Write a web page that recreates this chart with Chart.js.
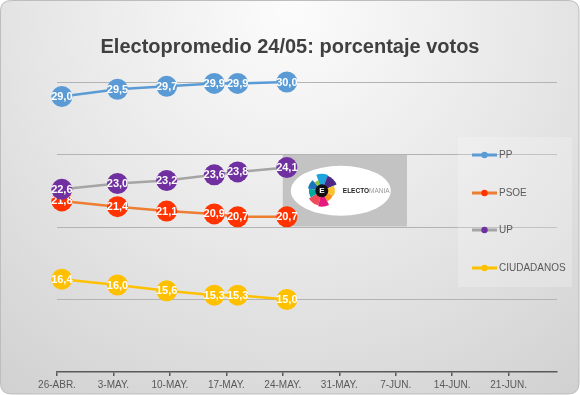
<!DOCTYPE html>
<html>
<head>
<meta charset="utf-8">
<script src="https://cdn.jsdelivr.net/npm/chart.js@4.4.1/dist/chart.umd.min.js"></script>
<style>
html,body{margin:0;padding:0;background:#fff;}
#wrap{width:580px;height:395px;}
</style>
</head>
<body>
<div id="wrap"><canvas id="c" width="580" height="395"></canvas></div>
<script>
// ---- data ----
const chartTitle = 'Electopromedio 24/05: porcentaje votos';
const tickLabels = ['26-ABR.', '3-MAY.', '10-MAY.', '17-MAY.', '24-MAY.', '31-MAY.', '7-JUN.', '14-JUN.', '21-JUN.'];
// day offsets from 26-ABR as placed on the date axis
const dayOffsets = [0.6, 7.5, 13.6, 19.5, 22.4, 28.5];
const seriesNames = ['PP', 'PSOE', 'UP', 'CIUDADANOS'];
const ppValues = [29.0, 29.5, 29.7, 29.9, 29.9, 30.0];
const psoeValues = [21.8, 21.4, 21.1, 20.9, 20.7, 20.7];
const upValues = [22.6, 23.0, 23.2, 23.6, 23.8, 24.1];
const csValues = [16.4, 16.0, 15.6, 15.3, 15.3, 15.0];

const lineColors = ['#5b9bd5', '#ed7d31', '#a5a5a5', '#ffc000'];
const markerColors = ['#5b9bd5', '#ff3300', '#7030a0', '#ffc000'];
const allValues = [ppValues, psoeValues, upValues, csValues];

function pts(vals) { return vals.map((v, i) => ({ x: dayOffsets[i], y: v })); }

const datasets = allValues.map((vals, i) => ({
  label: seriesNames[i],
  data: pts(vals),
  borderColor: lineColors[i],
  backgroundColor: markerColors[i],
  pointBackgroundColor: markerColors[i],
  pointBorderColor: markerColors[i],
  pointBorderWidth: 0,
  pointRadius: 10.5,
  pointHoverRadius: 10.5,
  borderWidth: 2.5,
  tension: 0,
  clip: false,
  order: 10 - i
}));

const bgPlugin = {
  id: 'bg',
  beforeDraw(chart) {
    const ctx = chart.ctx, W = chart.width, H = chart.height;
    ctx.save();
    ctx.fillStyle = '#ffffff';
    ctx.fillRect(0, 0, W, H);
    const r = 11;
    ctx.beginPath();
    ctx.moveTo(r + 0.5, 0.5);
    ctx.lineTo(W - r - 1, 0.5);
    ctx.quadraticCurveTo(W - 1, 0.5, W - 1, r);
    ctx.lineTo(W - 1, H - r - 1);
    ctx.quadraticCurveTo(W - 1, H - 1, W - r - 1, H - 1);
    ctx.lineTo(r + 0.5, H - 1);
    ctx.quadraticCurveTo(0.5, H - 1, 0.5, H - r - 1);
    ctx.lineTo(0.5, r);
    ctx.quadraticCurveTo(0.5, 0.5, r + 0.5, 0.5);
    ctx.closePath();
    const g = ctx.createRadialGradient(W / 2, 10, 10, W / 2, 10, 560);
    g.addColorStop(0, '#fbfbfb');
    g.addColorStop(0.45, '#e6e6e6');
    g.addColorStop(1, '#c9c9c9');
    ctx.fillStyle = g;
    ctx.fill();
    ctx.strokeStyle = '#bdbdbd';
    ctx.lineWidth = 1;
    ctx.stroke();
    ctx.restore();
  }
};

const logoPlugin = {
  id: 'logo',
  beforeDatasetsDraw(chart) {
    const ctx = chart.ctx;
    const xs = chart.scales.x, ys = chart.scales.y;
    const x0 = xs.getPixelForValue(28), x1 = xs.getPixelForValue(43.4);
    const y0 = ys.getPixelForValue(25), y1 = ys.getPixelForValue(20);
    ctx.save();
    ctx.fillStyle = '#c3c3c3';
    ctx.fillRect(x0, y0 + 0.5, x1 - x0, y1 - y0 - 1);
    const cx = x0 + 58, cy = (y0 + y1) / 2;
    ctx.fillStyle = '#ffffff';
    ctx.beginPath();
    ctx.ellipse(cx, cy, 50, 25, 0, 0, Math.PI * 2);
    ctx.fill();
    // petals
    const ix = cx - 19, iy = cy;
    const petals = [
      ['#1fa3dc', -1.9, -1.2, 17], ['#4a2a86', -1.2, -0.4, 16], ['#fcc22d', -0.4, 0.4, 13],
      ['#f7941d', 0.4, 1.1, 12], ['#e6197e', 1.1, 1.8, 16], ['#ef4b5a', 1.8, 2.6, 15],
      ['#00a99d', 2.6, 3.3, 13], ['#1b75bb', 3.3, 4.0, 14], ['#8dc63f', 4.0, 4.4, 11]
    ];
    petals.forEach(p => {
      ctx.fillStyle = p[0];
      ctx.beginPath();
      ctx.moveTo(ix, iy);
      ctx.arc(ix, iy, p[3], p[1], p[2]);
      ctx.closePath();
      ctx.fill();
    });
    ctx.fillStyle = '#111';
    ctx.beginPath();
    ctx.arc(ix, iy, 6.5, 0, Math.PI * 2);
    ctx.fill();
    ctx.fillStyle = '#fff';
    ctx.font = 'bold 8px "Liberation Sans"';
    ctx.textAlign = 'center';
    ctx.textBaseline = 'middle';
    ctx.fillText('E', ix, iy + 0.5);
    ctx.textAlign = 'left';
    ctx.font = 'bold 6.5px "Liberation Sans"';
    ctx.fillStyle = '#222';
    ctx.fillText('ELECTO', ix + 21, iy + 0.5);
    const w = ctx.measureText('ELECTO').width;
    ctx.font = '6.5px "Liberation Sans"';
    ctx.fillStyle = '#9a9a9a';
    ctx.fillText('MANIA', ix + 21 + w, iy + 0.5);
    ctx.restore();
  }
};

const labelPlugin = {
  id: 'vlabels',
  afterDatasetDraw(chart, args) {
    const ctx = chart.ctx;
    const meta = args.meta;
    const ds = chart.data.datasets[args.index];
    ctx.save();
    ctx.font = 'bold 11px "Liberation Sans"';
    ctx.fillStyle = '#ffffff';
    ctx.textAlign = 'center';
    ctx.textBaseline = 'middle';
    meta.data.forEach((el, i) => {
      const v = ds.data[i].y;
      ctx.fillText(v.toFixed(1).replace('.', ','), el.x, el.y + 0.5);
    });
    ctx.restore();
  }
};

const legendPlugin = {
  id: 'customLegend',
  afterDraw(chart) {
    const ctx = chart.ctx;
    ctx.save();
    ctx.fillStyle = 'rgba(255,255,255,0.22)';
    ctx.fillRect(458, 137, 114, 150);
    const ys = [155, 193, 230, 268];
    ctx.font = '10px "Liberation Sans"';
    ctx.textBaseline = 'middle';
    ctx.textAlign = 'left';
    seriesNames.forEach((n, i) => {
      ctx.strokeStyle = lineColors[i];
      ctx.lineWidth = 3;
      ctx.beginPath();
      ctx.moveTo(472, ys[i]);
      ctx.lineTo(497, ys[i]);
      ctx.stroke();
      ctx.fillStyle = markerColors[i];
      ctx.beginPath();
      ctx.arc(484.5, ys[i], 3.2, 0, Math.PI * 2);
      ctx.fill();
      ctx.fillStyle = '#595959';
      ctx.fillText(n, 499, ys[i] + 0.5);
    });
    ctx.restore();
  }
};

new Chart(document.getElementById('c'), {
  type: 'line',
  data: { datasets },
  plugins: [bgPlugin, logoPlugin, labelPlugin, legendPlugin],
  options: {
    responsive: false,
    animation: false,
    events: [],
    layout: { padding: { left: 23, right: 23, top: 0, bottom: 0 } },
    plugins: {
      legend: { display: false },
      tooltip: { enabled: false },
      title: {
        display: true,
        text: chartTitle,
        color: '#404040',
        font: { family: '"Liberation Sans"', size: 20, weight: 'bold', lineHeight: 1.2 },
        padding: { top: 35, bottom: 23 }
      }
    },
    scales: {
      x: {
        type: 'linear',
        min: 0,
        max: 62,
        afterBuildTicks(scale) { scale.ticks = tickLabels.map((_, i) => ({ value: i * 7 })); },
        afterFit(scale) { scale.height = 23; },
        ticks: {
          autoSkip: false,
          maxRotation: 0,
          padding: 3,
          color: '#595959',
          font: { family: '"Liberation Sans"', size: 10 },
          callback: (v) => tickLabels[Math.round(v / 7)]
        },
        grid: { drawOnChartArea: false, drawTicks: true, tickLength: 4, color: '#595959', lineWidth: 1.5 },
        border: { display: true, color: '#595959', width: 1.5 }
      },
      y: {
        min: 10,
        max: 30,
        afterFit(scale) { scale.width = 34; },
        ticks: { display: false, stepSize: 5 },
        grid: {
          drawTicks: false,
          color: (c) => c.tick && c.tick.value === 10 ? 'rgba(0,0,0,0)' : '#b3b3b3',
          lineWidth: 1
        },
        border: { display: false }
      }
    }
  }
});
</script>
</body>
</html>
